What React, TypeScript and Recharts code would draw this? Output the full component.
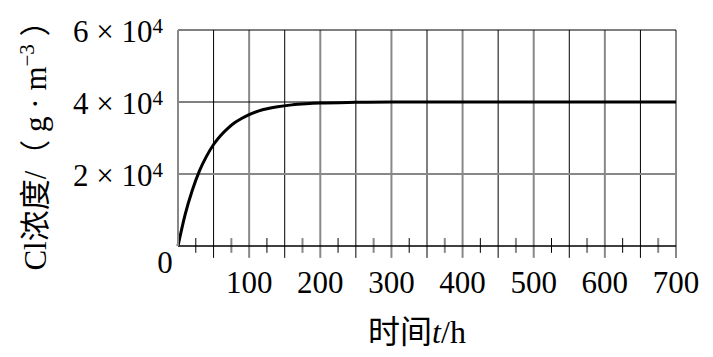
import { LineChart, Line, XAxis, YAxis, ReferenceLine } from 'recharts';

// 时间 t/h
const hours = [0, 10, 20, 30, 40, 50, 60, 70, 80, 90, 100, 120, 140, 160, 180, 200, 250, 300, 350, 400, 450, 500, 550, 600, 650, 700];
// Cl 浓度 g/m^3
const concentration = [0, 8700, 15400, 20800, 24900, 28200, 30700, 32700, 34300, 35500, 36500, 37900, 38700, 39200, 39500, 39700, 39900, 40000, 40000, 40000, 40000, 40000, 40000, 40000, 40000, 40000];

const xTicks = [0, 100, 200, 300, 400, 500, 600, 700];
const yTicks = [0, 20000, 40000, 60000];
const gridX = [50, 100, 150, 200, 250, 300, 350, 400, 450, 500, 550, 600, 650, 700];
const minorX = [25, 75, 125, 175, 225, 275, 325, 375, 425, 475, 525, 575, 625, 675];

const data = hours.map((t, i) => ({ t, c: concentration[i] }));

const FONT = '"Liberation Serif", "Noto Sans CJK SC", serif';

const XTick = ({ x, y, payload }: any) => {
  if (payload.value === 0) return null;
  return (
    <text x={x} y={y + 47} textAnchor="middle" fontSize={31} fontFamily={FONT} fill="#000">
      {payload.value}
    </text>
  );
};

const YTick = ({ x, y, payload }: any) => {
  if (payload.value === 0) {
    return (
      <text x={x - 13} y={y + 27} textAnchor="middle" fontSize={31} fontFamily={FONT} fill="#000">
        0
      </text>
    );
  }
  return (
    <text x={x - 15} y={y + 12} textAnchor="end" fontSize={31} fontFamily={FONT} fill="#000">
      {`${payload.value / 10000} × 10`}
      <tspan fontSize={21} dy={-9}>4</tspan>
    </text>
  );
};

export default function App() {
  return (
    <div style={{ position: 'absolute', left: 0, top: 0, background: '#fff' }}>
      <LineChart width={713} height={357} data={data} margin={{ top: 30, right: 37, left: 0, bottom: 0 }}>
        <XAxis
          dataKey="t"
          type="number"
          domain={[0, 700]}
          ticks={xTicks}
          tick={<XTick />}
          tickLine={false}
          tickSize={0}
          tickMargin={0}
          axisLine={{ stroke: '#000', strokeWidth: 1.5 }}
          height={111}
          interval={0}
        />
        <YAxis
          type="number"
          domain={[0, 60000]}
          ticks={yTicks}
          tick={<YTick />}
          tickLine={false}
          tickSize={0}
          tickMargin={0}
          axisLine={{ stroke: '#888', strokeWidth: 2 }}
          width={178}
          interval={0}
        />
        {gridX.map((v) => (
          <ReferenceLine
            key={`g${v}`}
            segment={[{ x: v, y: -3300 }, { x: v, y: 60000 }]}
            ifOverflow="visible"
            stroke={v % 100 === 0 ? '#888' : '#000'}
            strokeWidth={v % 100 === 0 ? 2 : 1}
          />
        ))}
        {minorX.map((v, i) => (
          <ReferenceLine
            key={`m${v}`}
            segment={[{ x: v, y: -1900 }, { x: v, y: 2200 }]}
            ifOverflow="visible"
            stroke={i % 2 === 1 ? '#888' : '#000'}
            strokeWidth={i % 2 === 1 ? 2 : 1}
          />
        ))}
        <ReferenceLine y={60000} stroke="#000" strokeWidth={1} />
        <ReferenceLine y={40000} stroke="#000" strokeWidth={1} />
        <ReferenceLine y={20000} stroke="#888" strokeWidth={2} />
        <Line dataKey="c" type="monotone" stroke="#000" strokeWidth={3} dot={false} isAnimationActive={false} />
        <text x={417} y={343} textAnchor="middle" fontSize={32} fontFamily={FONT} fill="#000">
          时间<tspan fontStyle="italic">t</tspan>/h
        </text>
        <text
          x={0}
          y={0}
          transform="translate(46, 138) rotate(-90)"
          textAnchor="middle"
          fontSize={31}
          fontFamily={FONT}
          fill="#000"
        >
          Cl浓度/（ g · m<tspan fontSize={21} dy={-12}>−3</tspan>
          <tspan dy={12}> ）</tspan>
        </text>
      </LineChart>
    </div>
  );
}
